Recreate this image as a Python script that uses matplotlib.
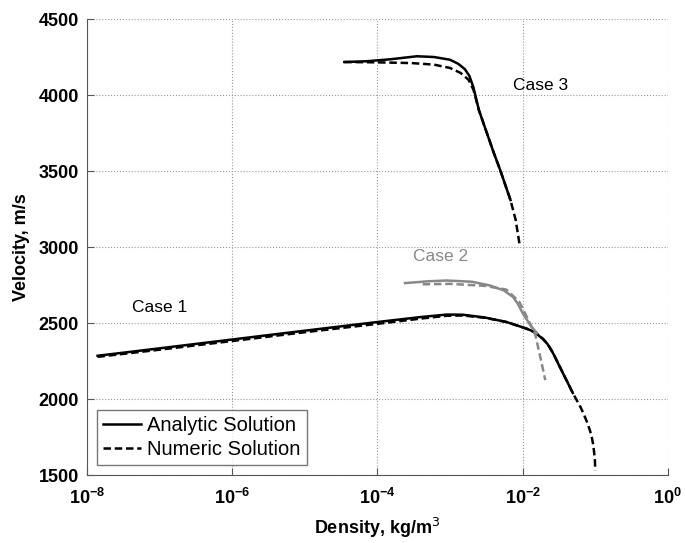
import matplotlib
matplotlib.use("Agg")
import matplotlib.pyplot as plt
import numpy as np

plt.rcParams['font.family'] = ['Liberation Sans', 'DejaVu Sans']

# Case 1
c1_rho_a = [1.4e-8, 1e-7, 1e-6, 1e-5, 1e-4, 4e-4, 9e-4, 1.5e-3, 3e-3, 6e-3, 1e-2, 1.3e-2,
            1.6e-2, 1.9e-2, 2.2e-2, 2.6e-2, 3.2e-2, 3.8e-2, 4.4e-2, 4.9e-2]
c1_vel_a = [2285, 2334, 2392, 2450, 2507, 2540, 2556, 2555, 2537, 2507, 2472, 2452,
            2425, 2395, 2362, 2305, 2218, 2146, 2086, 2040]
c1_rho_n = [1.4e-8, 1e-7, 1e-6, 1e-5, 1e-4, 4e-4, 9e-4, 1.5e-3, 3e-3, 6e-3, 1e-2, 1.3e-2,
            1.6e-2, 1.9e-2, 2.2e-2, 2.6e-2, 3.2e-2, 3.8e-2, 4.4e-2, 4.9e-2, 5.6e-2,
            6.3e-2, 7e-2, 7.8e-2, 8.5e-2, 9e-2, 9.4e-2, 9.7e-2, 9.9e-2, 1e-1]
c1_vel_n = [2278, 2325, 2382, 2440, 2495, 2530, 2548, 2550, 2535, 2507, 2472, 2454,
            2427, 2397, 2364, 2307, 2220, 2148, 2086, 2040, 1990,
            1945, 1897, 1842, 1790, 1745, 1695, 1640, 1590, 1530]

# Case 2
c2_rho_a = [2.4e-4, 5e-4, 9e-4, 2e-3, 3.5e-3, 5.5e-3, 7.4e-3, 8.5e-3, 1e-2, 1.15e-2, 1.3e-2, 1.58e-2]
c2_vel_a = [2763, 2775, 2780, 2772, 2748, 2715, 2671, 2630, 2566, 2520, 2480, 2434]
c2_rho_n = [4.2e-4, 1e-3, 3e-3, 6e-3, 9e-3, 1.2e-2, 1.5e-2, 1.8e-2, 2.05e-2]
c2_vel_n = [2755, 2758, 2745, 2720, 2640, 2520, 2420, 2250, 2125]

# Case 3
c3_rho_a = [3.5e-5, 7e-5, 1.5e-4, 3.5e-4, 6e-4, 1e-3, 1.3e-3, 1.6e-3, 1.85e-3, 2.1e-3,
            2.5e-3, 4e-3, 4.9e-3, 6.8e-3]
c3_vel_a = [4217, 4222, 4235, 4255, 4250, 4232, 4205, 4170, 4125, 4050,
            3900, 3620, 3507, 3309]
c3_rho_n = [3.5e-5, 1e-4, 3e-4, 6e-4, 1e-3, 1.4e-3, 1.8e-3, 2.1e-3, 2.5e-3, 4e-3,
            4.9e-3, 6.8e-3, 8e-3, 9.1e-3]
c3_vel_n = [4217, 4215, 4210, 4200, 4178, 4145, 4100, 4035, 3900, 3620,
            3507, 3309, 3180, 3013]

grey = '#888888'
lw = 1.8
dash = (0, (3, 1.5))

fig = plt.figure(figsize=(6.85, 5.43), dpi=100)
ax = fig.add_axes([0.127, 0.125, 0.848, 0.84])

ax.plot(c1_rho_a, c1_vel_a, color='black', lw=lw, label='Analytic Solution')
ax.plot(c1_rho_n, c1_vel_n, color='black', lw=lw, ls=dash, label='Numeric Solution')
ax.plot(c2_rho_a, c2_vel_a, color=grey, lw=lw)
ax.plot(c2_rho_n, c2_vel_n, color=grey, lw=lw, ls=dash)
ax.plot(c3_rho_a, c3_vel_a, color='black', lw=lw)
ax.plot(c3_rho_n, c3_vel_n, color='black', lw=lw, ls=dash)

ax.set_xscale('log')
ax.set_xlim(1e-8, 1)
ax.set_ylim(1500, 4500)
ax.set_xticks([1e-8, 1e-6, 1e-4, 1e-2, 1])
ax.xaxis.set_minor_locator(matplotlib.ticker.NullLocator())
ax.set_yticks(np.arange(1500, 4501, 500))

ax.grid(True, ls=':', color='#999999', lw=0.8)
for s in ['top', 'right']:
    ax.spines[s].set_visible(False)
for s in ['left', 'bottom']:
    ax.spines[s].set_color('#555555')
ax.tick_params(direction='in', length=5, color='#555555', labelsize=13)
ax.tick_params(axis='x', pad=9)
ax.tick_params(axis='y', pad=6)
for t in ax.get_xticklabels() + ax.get_yticklabels():
    t.set_fontweight('bold')

ax.set_xlabel('Density, kg/m$^3$', fontsize=13, fontweight='bold', labelpad=6)
ax.set_ylabel('Velocity, m/s', fontsize=13, fontweight='bold', labelpad=6)

ax.text(1e-7, 2600, 'Case 1', fontsize=12.5, ha='center', va='center')
ax.text(7.5e-4, 2940, 'Case 2', fontsize=12.5, ha='center', va='center', color=grey)
ax.text(1.75e-2, 4060, 'Case 3', fontsize=12.5, ha='center', va='center')

leg = ax.legend(loc='lower left', fontsize=14.5, frameon=True, fancybox=False,
                handlelength=1.9, handletextpad=0.3, borderaxespad=0.5,
                labelspacing=0.25, borderpad=0.3)
leg.get_frame().set_edgecolor('#555555')
leg.get_frame().set_linewidth(1.0)

fig.savefig('out.png', dpi=100)
